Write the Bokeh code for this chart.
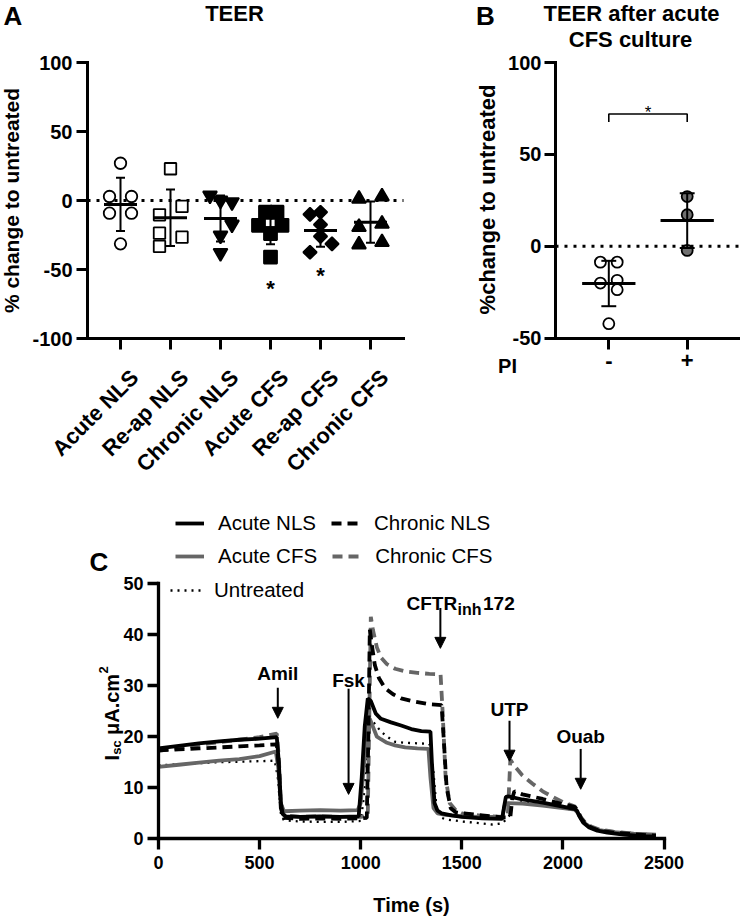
import numpy as np
from bokeh.plotting import figure
from bokeh.models import (Range1d, FixedTicker, Label, Legend, LegendItem,
                          Arrow, NormalHead)
from bokeh.layouts import column, row
from bokeh.embed import file_html
from bokeh.resources import INLINE
from bokeh.core.properties import value

FONT = "Liberation Sans"
GREY = "#666666"

# ---------------- data: panel A (TEER, % change to untreated) ----------------
teer_categories = ["Acute NLS", "Re-ap NLS", "Chronic NLS", "Acute CFS", "Re-ap CFS", "Chronic CFS"]
teer_acute_nls = [27.0, 2.9, 2.9, -9.2, -9.2, -31.4]
teer_reap_nls = [23.0, -4.3, -10.4, -23.7, -26.6, -33.3]
teer_chronic_nls = [3.6, 0.0, -1.2, -17.4, -25.4, -38.0]
teer_acute_cfs = [-8.5, -8.5, -18.0, -18.0, -24.0, -41.0]
teer_reap_cfs = [-10.1, -8.5, -17.4, -26.0, -31.4, -37.5]
teer_chronic_cfs = [1.2, 2.9, -19.3, -16.9, -31.9, -30.2]
# horizontal scatter of the points inside each category (category units)
jit_acute_nls = [0.0, -0.22, 0.22, -0.22, 0.22, 0.0]
jit_reap_nls = [0.0, 0.23, -0.22, -0.22, 0.23, -0.22]
jit_chronic_nls = [-0.21, 0.0, 0.23, 0.23, 0.0, 0.0]
jit_acute_cfs = [-0.1, 0.13, -0.24, 0.23, 0.0, 0.0]
jit_reap_cfs = [-0.21, 0.0, 0.0, 0.0, 0.23, -0.21]
jit_chronic_cfs = [-0.23, 0.23, -0.23, 0.23, -0.23, 0.23]
star_groups = ["Acute CFS", "Re-ap CFS"]
star_y = [-60.0, -51.0]
a_yticks = [-100, -50, 0, 50, 100]

# ---------------- data: panel B (TEER after acute CFS culture) ----------------
pi_labels = ["-", "+"]
teer_pi_minus = [-8.7, -8.7, -20.1, -18.6, -23.7, -42.2]
jit_pi_minus = [-0.107, 0.107, -0.107, 0.107, 0.107, 0.0]
teer_pi_plus = [27.0, 17.1, -2.3]
jit_pi_plus = [0.0, 0.0, 0.0]
bracket_y = 72.0
bracket_drop = 4.4
b_yticks = [-50, 0, 50, 100]

# ---------------- data: panel C (Isc traces) ----------------
t_acute_nls = [0, 100, 200, 300, 400, 500, 585, 595, 605, 615, 630, 700, 800, 900, 990, 1005, 1020, 1035,
               1050, 1075, 1100, 1150, 1200, 1250, 1300, 1345, 1352, 1365, 1380, 1400, 1450, 1500, 1600,
               1700, 1708, 1718, 1730, 1800, 1900, 2000, 2060, 2070, 2080, 2100, 2130, 2170, 2220, 2300,
               2400, 2460]
isc_acute_nls = [17.7, 18.2, 18.7, 19.1, 19.4, 19.6, 19.9, 15.0, 7.0, 4.8, 4.4, 4.3, 4.4, 4.3, 4.4, 12.0,
                 22.0, 27.5, 27.0, 24.5, 23.5, 22.8, 22.2, 21.5, 21.1, 21.0, 15.0, 7.0, 5.5, 5.0, 4.6, 4.3,
                 4.0, 3.9, 6.0, 8.2, 8.3, 7.7, 7.1, 6.3, 5.8, 5.5, 4.5, 3.2, 2.2, 1.6, 1.2, 0.8, 0.5, 0.4]

t_acute_cfs = [0, 100, 200, 300, 400, 500, 580, 592, 605, 620, 700, 800, 900, 985, 1000, 1015, 1030, 1045,
               1060, 1080, 1100, 1130, 1170, 1220, 1280, 1335, 1345, 1360, 1380, 1420, 1500, 1600, 1700,
               1712, 1725, 1800, 1900, 2000, 2060, 2075, 2090, 2110, 2140, 2180, 2250, 2350, 2460]
isc_acute_cfs = [14.1, 14.5, 14.9, 15.3, 15.6, 16.2, 17.1, 14.0, 7.0, 5.4, 5.5, 5.6, 5.5, 5.6, 7.0, 14.0,
                 21.0, 23.5, 22.0, 20.0, 19.5, 18.8, 18.3, 17.9, 17.7, 17.6, 12.0, 6.0, 5.0, 4.7, 4.4, 4.3,
                 4.3, 6.5, 7.0, 6.9, 6.5, 6.0, 5.7, 5.0, 4.0, 3.0, 2.2, 1.7, 1.3, 1.0, 0.8]

t_chronic_nls = [0, 100, 200, 300, 400, 500, 585, 595, 605, 620, 700, 800, 900, 1000, 1030, 1038, 1045,
                 1055, 1070, 1090, 1120, 1160, 1200, 1260, 1330, 1400, 1410, 1425, 1445, 1470, 1500, 1600,
                 1700, 1740, 1750, 1760, 1800, 1900, 2000, 2060, 2075, 2090, 2110, 2140, 2180, 2250, 2350,
                 2460]
isc_chronic_nls = [17.3, 17.5, 17.7, 17.9, 18.1, 18.3, 18.5, 14.0, 6.0, 4.1, 3.9, 4.0, 3.9, 4.0, 4.1, 20.0,
                   41.0, 38.0, 34.0, 31.5, 29.5, 28.3, 27.5, 26.9, 26.4, 26.2, 20.0, 10.0, 6.0, 5.2, 5.0,
                   4.6, 4.2, 4.2, 8.0, 9.3, 8.7, 7.8, 6.8, 6.2, 5.2, 4.0, 3.0, 2.2, 1.6, 1.2, 0.9, 0.6]

t_chronic_cfs = [0, 100, 200, 300, 400, 500, 585, 595, 605, 620, 700, 800, 900, 1000, 1035, 1043, 1050,
                 1060, 1080, 1100, 1130, 1170, 1220, 1280, 1340, 1395, 1405, 1420, 1440, 1470, 1500, 1600,
                 1700, 1728, 1740, 1760, 1800, 1850, 1900, 1950, 2000, 2060, 2075, 2090, 2110, 2140, 2180,
                 2250, 2350, 2460]
isc_chronic_cfs = [17.2, 17.8, 18.4, 18.9, 19.4, 19.9, 20.6, 16.0, 7.0, 4.6, 4.3, 4.4, 4.3, 4.3, 4.5, 25.0,
                   43.5, 41.0, 37.5, 35.5, 34.2, 33.3, 32.8, 32.5, 32.3, 32.2, 25.0, 12.0, 7.0, 5.6, 5.0,
                   4.5, 4.3, 5.0, 15.5, 14.3, 12.4, 10.8, 9.3, 8.2, 7.2, 6.3, 5.3, 4.2, 3.2, 2.4, 1.8, 1.4,
                   1.0, 0.7]

t_untreated = [0, 100, 200, 300, 400, 500, 575, 590, 605, 620, 700, 800, 900, 1000, 1015, 1030, 1045, 1060,
               1080, 1100, 1130, 1170, 1220, 1280, 1340, 1360, 1375, 1395, 1420, 1500, 1600, 1650, 1700,
               1735, 1750, 1800, 1900, 2000, 2060, 2075, 2090, 2110, 2140, 2180, 2250, 2350, 2460]
isc_untreated = [14.4, 14.6, 14.8, 15.0, 15.1, 15.2, 15.3, 12.0, 5.0, 3.6, 3.4, 3.3, 3.3, 3.5, 8.0, 17.0,
                 22.5, 23.0, 22.0, 21.0, 20.0, 19.0, 18.8, 18.7, 18.6, 13.0, 6.0, 4.2, 3.8, 3.4, 3.0, 2.8,
                 3.0, 4.5, 6.8, 7.2, 6.6, 6.0, 5.6, 4.8, 3.8, 2.8, 2.0, 1.5, 1.1, 0.8, 0.5]

c_xticks = [0, 500, 1000, 1500, 2000, 2500]
c_yticks = [0, 10, 20, 30, 40, 50]

# drug additions: name, time (s), arrow top, arrow tip, label level (uA.cm2)
drug_names = ["Amil", "Fsk", "UTP", "Ouab"]
drug_time = [590, 940, 1736, 2088]
drug_top = [29.6, 29.4, 23.1, 17.6]
drug_tip = [23.6, 8.7, 15.2, 9.7]
drug_text_y = [32.3, 31.0, 25.3, 20.0]
cftr_time = 1394
cftr_top = 45.2
cftr_tip = 37.3

ROW1_H = 482   # height of the A/B row (reference pixels)
PAGE_H = 916


# ---------------- helpers ----------------
class Mapper:
    """reference-pixel <-> data mapping for a figure whose frame fills its canvas"""

    def __init__(self, box, px0, dx0, px_per_x, py0, dy0, px_per_y):
        self.box = box
        self.px0, self.dx0, self.kx = px0, dx0, px_per_x
        self.py0, self.dy0, self.ky = py0, dy0, px_per_y

    def x(self, px):
        return self.dx0 + (px - self.px0) / self.kx

    def y(self, py):
        return self.dy0 - (py - self.py0) / self.ky

    def ranges(self):
        b = self.box
        return (self.x(b[0]), self.x(b[2])), (self.y(b[3]), self.y(b[1]))


def make_fig(m):
    b = m.box
    xr, yr = m.ranges()
    p = figure(width=b[2] - b[0], height=b[3] - b[1], x_range=Range1d(*xr), y_range=Range1d(*yr),
               output_backend="svg", toolbar_location=None, tools="", min_border=0)
    p.outline_line_color = None
    p.xgrid.visible = False
    p.ygrid.visible = False
    p.background_fill_color = "white"
    p.border_fill_color = "white"
    return p


def style_axis(ax, fs, tick_out=11, std=4, lw=3.0):
    ax.axis_line_width = lw
    ax.axis_line_color = "black"
    ax.axis_line_cap = "square"
    ax.major_tick_line_width = lw
    ax.major_tick_line_color = "black"
    ax.major_tick_out = tick_out
    ax.major_tick_in = 0
    ax.minor_tick_line_color = None
    ax.major_label_text_font = FONT
    ax.major_label_text_font_style = "bold"
    ax.major_label_text_font_size = f"{fs}px"
    ax.major_label_text_color = "black"
    ax.major_label_standoff = std


def tlabel(p, m, rx, ry, text, size, bold=True, align="center", baseline="middle", angle=0.0):
    p.add_layout(Label(x=m.x(rx), y=m.y(ry), text=text, text_font=FONT, text_font_size=f"{size}px",
                       text_font_style="bold" if bold else "normal", text_align=align,
                       text_baseline=baseline, angle=angle, text_color="black"))


def mean_sd(p, cx, vals, half_w, cap_w, lw_mean=3.0, lw_err=2.0):
    mu = float(np.mean(vals))
    sd = float(np.std(vals, ddof=1))
    p.segment(x0=[cx], y0=[mu - sd], x1=[cx], y1=[mu + sd], line_width=lw_err, line_color="black")
    p.segment(x0=[cx - cap_w, cx - cap_w], y0=[mu - sd, mu + sd], x1=[cx + cap_w, cx + cap_w],
              y1=[mu - sd, mu + sd], line_width=lw_err, line_color="black")
    p.segment(x0=[cx - half_w], y0=[mu], x1=[cx + half_w], y1=[mu], line_width=lw_mean,
              line_color="black")


def hyphen_labels(ticks):
    return {t: str(t) for t in ticks}


# ---------------- Panel A ----------------
A_XMIN, A_XMAX = 0.34, 6.66
mA = Mapper((0, 0, 405, ROW1_H), 87, A_XMIN, 50.0, 62, 100, 1.38)
pA = make_fig(mA)
style_axis(pA.xaxis[0], 20, 11, 6)
style_axis(pA.yaxis[0], 20, 11, 4)
pA.yaxis.ticker = FixedTicker(ticks=a_yticks)
pA.yaxis.major_label_overrides = hyphen_labels(a_yticks)
pA.yaxis.fixed_location = A_XMIN
pA.yaxis.bounds = (min(a_yticks), max(a_yticks))
pA.xaxis.ticker = FixedTicker(ticks=list(range(1, len(teer_categories) + 1)))
pA.xaxis.major_label_overrides = {i + 1: "" for i in range(len(teer_categories))}
pA.xaxis.fixed_location = min(a_yticks)
pA.xaxis.bounds = (A_XMIN, A_XMAX)
pA.segment(x0=[A_XMIN], y0=[0], x1=[A_XMAX], y1=[0], line_dash="3 6", line_width=3, line_color="black")

groups = [
    (teer_acute_nls, jit_acute_nls, dict(marker="circle", size=11.5, fill_color="white", angle=0.0)),
    (teer_reap_nls, jit_reap_nls, dict(marker="square", size=11.5, fill_color="white", angle=0.0)),
    (teer_chronic_nls, jit_chronic_nls, dict(marker="inverted_triangle", size=14, fill_color="black", angle=0.0)),
    (teer_acute_cfs, jit_acute_cfs, dict(marker="square", size=13, fill_color="black", angle=0.0)),
    (teer_reap_cfs, jit_reap_cfs, dict(marker="square", size=9.5, fill_color="black", angle=np.pi / 4)),
    (teer_chronic_cfs, jit_chronic_cfs, dict(marker="triangle", size=14, fill_color="black", angle=0.0)),
]
for gi, (vals, jit, st) in enumerate(groups):
    cx = gi + 1
    pA.scatter(x=[cx + j for j in jit], y=vals, marker=st["marker"], size=st["size"],
               fill_color=st["fill_color"], line_color="black", line_width=1.8, angle=st["angle"])
    mean_sd(pA, cx, vals, 0.33, 0.09)

pA.text(x=[teer_categories.index(g) + 1 for g in star_groups], y=star_y, text=["*"] * len(star_groups),
        text_font=value(FONT), text_font_size="22px", text_font_style="bold", text_align="center",
        text_baseline="middle", y_offset=5, text_color="black")

# rotated category labels (end of each label just below-right of its tick)
for i, cat in enumerate(teer_categories):
    pA.add_layout(Label(x=i + 1 + 14 / 50.0, y=mA.y(373), text=cat, text_font=FONT, text_font_size="22px",
                        text_font_style="bold", text_align="right", text_baseline="middle",
                        angle=np.pi / 4, text_color="black"))

tlabel(pA, mA, 11, 200, "% change to untreated", 21, angle=np.pi / 2)
tlabel(pA, mA, 12.5, 15.5, "A", 26)
tlabel(pA, mA, 234, 13, "TEER", 22)

# ---------------- Panel B ----------------
B_XMIN, B_XMAX = 0.32, 2.676
mB = Mapper((405, 0, 740, ROW1_H), 608.3, 1.0, 78.4, 62, 100, 1.8367)
pB = make_fig(mB)
style_axis(pB.xaxis[0], 22, 11, 4)
style_axis(pB.yaxis[0], 20, 11, 3)
pB.yaxis.ticker = FixedTicker(ticks=b_yticks)
pB.yaxis.major_label_overrides = hyphen_labels(b_yticks)
pB.yaxis.fixed_location = B_XMIN
pB.yaxis.bounds = (min(b_yticks), max(b_yticks))
pB.xaxis.ticker = FixedTicker(ticks=[1, 2])
pB.xaxis.major_label_overrides = {i + 1: c for i, c in enumerate(pi_labels)}
pB.xaxis.fixed_location = min(b_yticks)
pB.xaxis.bounds = (B_XMIN, B_XMAX)
pB.segment(x0=[B_XMIN], y0=[0], x1=[B_XMAX], y1=[0], line_dash="3 6", line_width=3, line_color="black")

pB.scatter(x=[1 + j for j in jit_pi_minus], y=teer_pi_minus, marker="circle", size=11,
           fill_color="white", line_color="black", line_width=1.8)
mean_sd(pB, 1, teer_pi_minus, 0.34, 0.095)
pB.scatter(x=[2 + j for j in jit_pi_plus], y=teer_pi_plus, marker="circle", size=11,
           fill_color="#707070", line_color="black", line_width=1.8)
mean_sd(pB, 2, teer_pi_plus, 0.34, 0.095)

pB.line(x=[1, 1, 2, 2], y=[bracket_y - bracket_drop, bracket_y, bracket_y, bracket_y - bracket_drop],
        line_width=1.6, line_color="black")
pB.text(x=[1.5], y=[bracket_y + 3.2], text=["*"], text_font=value(FONT), text_font_size="17px",
        text_align="center", text_baseline="middle", y_offset=4, text_color="black")

tlabel(pB, mB, 487, 199, "%change to untreated", 22, angle=np.pi / 2)
tlabel(pB, mB, 485, 15.5, "B", 26)
tlabel(pB, mB, 631, 13, "TEER after acute", 22)
tlabel(pB, mB, 630, 39, "CFS culture", 22)
tlabel(pB, mB, 507, 365, "PI", 20)

# ---------------- Panel C ----------------
C_BOX = (0, ROW1_H, 742, PAGE_H)
mC = Mapper(C_BOX, 158, 0.0, 0.2022, 838.3, 0.0, 5.106)
pC = make_fig(mC)
style_axis(pC.xaxis[0], 18, 11, 6, lw=3.3)
style_axis(pC.yaxis[0], 18, 11, 4, lw=3.3)
pC.xaxis.ticker = FixedTicker(ticks=c_xticks)
pC.yaxis.ticker = FixedTicker(ticks=c_yticks)
pC.xaxis.fixed_location = 0
pC.yaxis.fixed_location = 0
pC.xaxis.bounds = (min(c_xticks), max(c_xticks))
pC.yaxis.bounds = (min(c_yticks), max(c_yticks))

r_unt = pC.line(t_untreated, isc_untreated, line_color="black", line_width=2.3, line_dash="2 5")
r_ccfs = pC.line(t_chronic_cfs, isc_chronic_cfs, line_color=GREY, line_width=3.8, line_dash="10 6")
r_acfs = pC.line(t_acute_cfs, isc_acute_cfs, line_color=GREY, line_width=3.8)
r_cnls = pC.line(t_chronic_nls, isc_chronic_nls, line_color="black", line_width=3.8, line_dash="10 6")
r_anls = pC.line(t_acute_nls, isc_acute_nls, line_color="black", line_width=3.8)

for name, tx, top, tip, ty in zip(drug_names, drug_time, drug_top, drug_tip, drug_text_y):
    pC.add_layout(Arrow(end=NormalHead(size=11, fill_color="black", line_color="black", line_width=1),
                        x_start=tx, y_start=top, x_end=tx, y_end=tip, line_width=2, line_color="black"))
    pC.add_layout(Label(x=tx, y=ty, text=name, text_font=FONT, text_font_size="19px",
                        text_font_style="bold", text_align="center", text_baseline="middle",
                        text_color="black"))
pC.add_layout(Arrow(end=NormalHead(size=11, fill_color="black", line_color="black", line_width=1),
                    x_start=cftr_time, y_start=cftr_top, x_end=cftr_time, y_end=cftr_tip,
                    line_width=2, line_color="black"))
tlabel(pC, mC, 406, 603.3, "CFTR", 19, align="left", baseline="alphabetic")
tlabel(pC, mC, 457, 608.5, "inh", 16, align="left", baseline="alphabetic")
tlabel(pC, mC, 482.5, 603.3, "172", 19, align="left", baseline="alphabetic")

# y axis label  I_sc uA.cm^2 (rotated, reads bottom to top)
ang = np.pi / 2
tlabel(pC, mC, 111, 760, "I", 20, align="left", baseline="alphabetic", angle=ang)
tlabel(pC, mC, 115.5, 754.3, "sc", 13, align="left", baseline="alphabetic", angle=ang)
tlabel(pC, mC, 111, 734.5, "\u03bcA.cm", 20, align="left", baseline="alphabetic", angle=ang)
tlabel(pC, mC, 103, 673.0, "2", 13, align="left", baseline="alphabetic", angle=ang)

tlabel(pC, mC, 411, 904, "Time (s)", 20)
tlabel(pC, mC, 98.5, 561, "C", 26)


def add_legend(items, ref_x, ref_cy, glyph_w, standoff, spacing, label_w):
    ent_h = 24
    vx = ref_x - C_BOX[0]
    vy = (C_BOX[3] - ref_cy) - ent_h / 2
    lg = Legend(items=items, location=(vx, vy), orientation="horizontal",
                glyph_width=glyph_w, glyph_height=ent_h, label_height=ent_h,
                label_width=label_w, label_standoff=standoff, spacing=spacing,
                padding=0, margin=0, border_line_color=None, background_fill_alpha=0,
                label_text_font=FONT, label_text_font_size="20.5px", label_text_color="black")
    pC.add_layout(lg)


add_legend([LegendItem(label="Acute NLS", renderers=[r_anls]),
            LegendItem(label="Chronic NLS", renderers=[r_cnls])], 175, 523, 29, 14, 15, 97)
add_legend([LegendItem(label="Acute CFS", renderers=[r_acfs]),
            LegendItem(label="Chronic CFS", renderers=[r_ccfs])], 175, 556, 29, 14, 15, 97)
add_legend([LegendItem(label="Untreated", renderers=[r_unt])], 170, 590, 32, 12, 15, 60)

layout = column(row(pA, pB), pC)
open("out.html", "w").write(file_html(layout, INLINE))
